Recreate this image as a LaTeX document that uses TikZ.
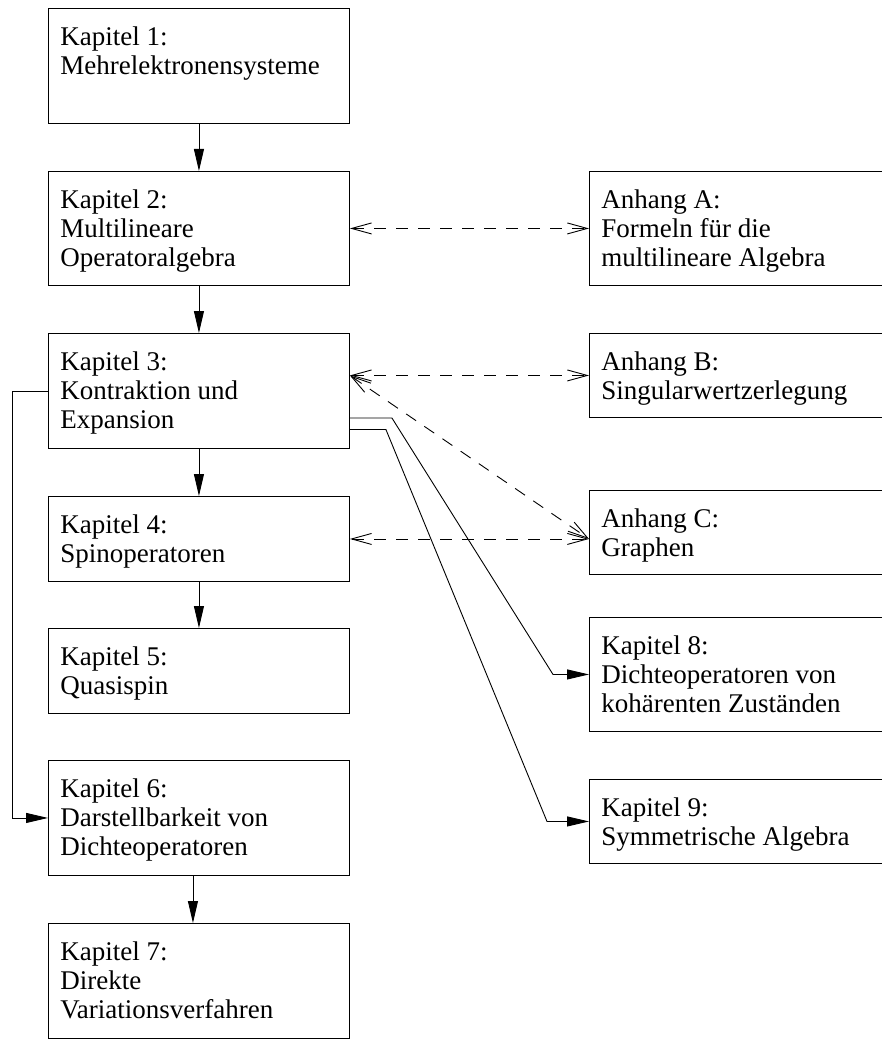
\documentclass[tikz,border=0pt]{standalone}
\usepackage{fontspec}
\setmainfont{Liberation Serif}
\usetikzlibrary{arrows.meta}

\newcommand{\kaptext}[2]{\parbox[c][#1][t]{277pt}{\raggedright\rule{0pt}{37pt}#2}}

\begin{document}
\begin{tikzpicture}[x=1pt,y=-1pt]
    \tikzstyle{kap}=[draw, line width=0.9pt, anchor=north west, inner xsep=12pt, inner ysep=0pt,
                     font=\fontsize{27}{29}\selectfont]
    \tikzstyle{pfeil}=[line width=0.9pt, -{Triangle[length=22pt,width=10pt]}]
    \tikzstyle{doppel}=[line width=0.9pt, dash pattern=on 12pt off 10pt,
                        {Straight Barb[length=20pt,width=11pt]}-{Straight Barb[length=20pt,width=11pt]}]

    \useasboundingbox (0,0) rectangle (882,1040);
    \clip (0,0) rectangle (882,1040);

    % linke Spalte
    \node[kap] (k1) at (48,8)   {\kaptext{115pt}{Kapitel 1:\\ Mehrelektronensysteme}};
    \node[kap] (k2) at (48,171) {\kaptext{114pt}{Kapitel 2:\\ Multilineare\\ Operatoralgebra}};
    \node[kap] (k3) at (48,333) {\kaptext{115pt}{Kapitel 3:\\ Kontraktion und\\ Expansion}};
    \node[kap] (k4) at (48,496) {\kaptext{85pt}{Kapitel 4:\\ Spinoperatoren}};
    \node[kap] (k5) at (48,628) {\kaptext{85pt}{Kapitel 5:\\ Quasispin}};
    \node[kap] (k6) at (48,760) {\kaptext{115pt}{Kapitel 6:\\ Darstellbarkeit von\\ Dichteoperatoren}};
    \node[kap] (k7) at (48,923) {\kaptext{115pt}{Kapitel 7:\\ Direkte\\ Variationsverfahren}};

    % rechte Spalte
    \node[kap] (anhA) at (589,171) {\kaptext{114pt}{Anhang A:\\ Formeln für die\\ multilineare Algebra}};
    \node[kap] (anhB) at (589,333) {\kaptext{84pt}{Anhang B:\\ Singularwertzerlegung}};
    \node[kap] (anhC) at (589,490) {\kaptext{84pt}{Anhang C:\\ Graphen}};
    \node[kap] (k8) at (589,617)   {\kaptext{114pt}{Kapitel 8:\\ Dichteoperatoren von\\ kohärenten Zuständen}};
    \node[kap] (k9) at (589,779)   {\kaptext{84pt}{Kapitel 9:\\ Symmetrische Algebra}};

    \draw[pfeil] (k1.south) -- (k2.north);
    \draw[pfeil] (k2.south) -- (k3.north);
    \draw[pfeil] (k3.south) -- (k4.north);
    \draw[pfeil] (k4.south) -- (k5.north);
    \draw[pfeil] ([xshift=-6pt]k6.south) -- ([xshift=-6pt]k7.north);
    \draw[pfeil] (k3.west) -- ++(-36,0) |- (k6.west);

    \draw[pfeil] ([yshift=-27pt]k3.east) -- ++(42,0) -- ([xshift=-36pt]k8.west) -- (k8.west);
    \draw[pfeil] ([yshift=-38.5pt]k3.east) -- ++(36,0) -- ([xshift=-42pt]k9.west) -- (k9.west);

    \coordinate (b3) at (k3.east |- anhB.west);
    \coordinate (c4) at (anhC.west |- k4.east);
    \draw[doppel] (k2.east) -- (anhA.west);
    \draw[doppel] (b3) -- (anhB.west);
    \draw[doppel] (k4.east) -- (c4);
    \draw[doppel] (b3) -- (c4);
\end{tikzpicture}
\end{document}
